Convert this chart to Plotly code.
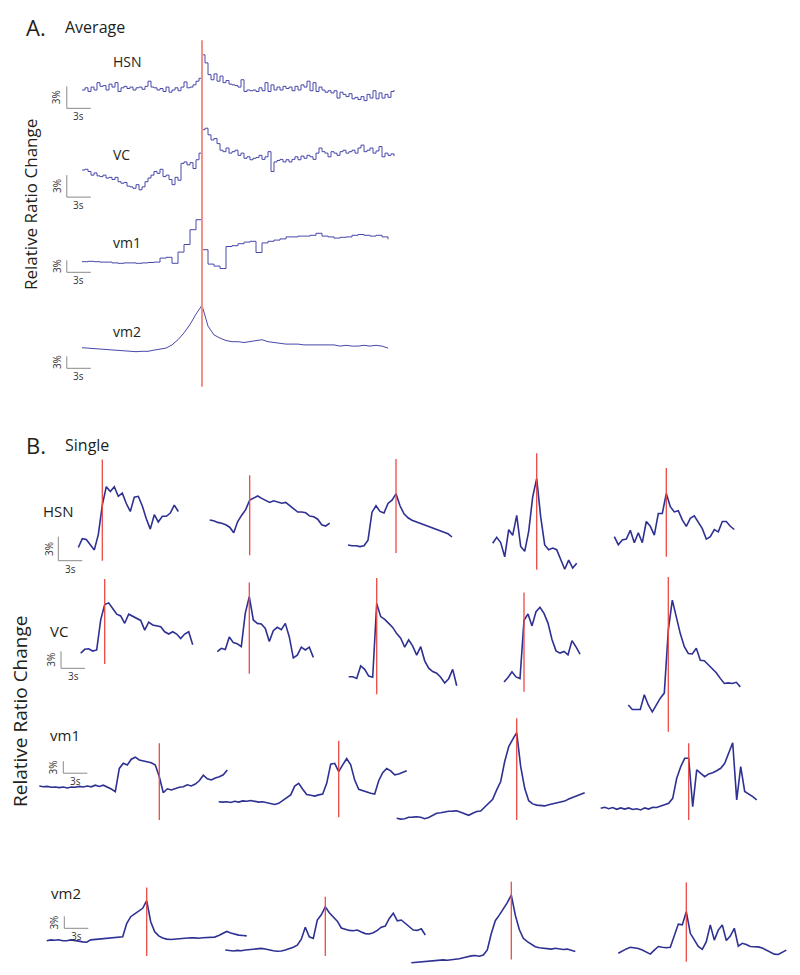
import plotly.graph_objects as go

# ---------------- data (relative ratio change, %) ----------------
# Panel A: averages (stimulus at 0 s). HSN and VC sampled every 0.375 s,
# vm1 and vm2 every 0.75 s, all starting at -15 s
A_T0 = -15.0
A_DT_FINE, A_DT = 0.375, 0.75
A_HSN = [0.0, 0.3, -0.2, 0.4, 0.0, 1.0, 0.5, 0.6, 0.0, 0.8, 0.4, 1.0, -0.2, 0.3, 0.5, 0.2, 0.4, 0.0, 0.3, 0.4,
         0.1, 0.5, 1.2, 0.4, 0.3, 0.0, 0.2, -0.2, 0.4, -0.3, 0.0, 0.3, -0.1, 0.4, 1.1, 0.3, 0.4, 0.7, 1.2, 1.6,
         4.8, 3.7, 2.1, 1.4, 2.2, 1.2, 1.9, 1.0, 1.3, 0.8, 0.7, 0.6, 0.4, 1.4, -0.2, 0.0, -0.1, 0.0, -0.2, 0.3,
         -0.1, 1.0, -0.2, 0.7, 0.0, 0.4, 0.0, 0.5, 0.2, 0.4, -0.1, 0.5, 0.0, 0.7, 0.4, 1.2, -0.1, 1.0, -0.2, 0.4,
         0.0, -0.3, -0.1, -0.4, -0.1, -1.1, -0.3, -0.6, -0.9, -0.5, -1.2, -1.0, -1.3, -0.9, -1.45, -0.6, -1.1, -0.1,
         -1.2, -0.4, -1.1, -0.6, -1.0, -0.2, 0.0]
A_VC = [0.0, 0.1, -0.2, -0.7, -0.4, -0.8, -0.9, -0.7, -1.1, -1.0, -1.3, -1.0, -1.6, -1.8, -1.7, -2.2, -2.3, -2.5, -2.0,
        -2.7, -2.3, -1.6, -1.1, -0.7, -0.2, -0.45, 0.1, -0.9, -0.7, -1.3, -2.0, -1.0, -1.4, 0.9, 1.1, 0.7, 1.0, 0.2,
        1.4, 2.3, 5.5, 5.7, 4.8, 4.1, 4.3, 3.6, 2.7, 2.5, 3.0, 2.3, 2.5, 2.7, 2.0, 2.3, 1.6, 1.8, 1.4, 1.6, 1.7,
        2.0, 1.45, 1.8, 2.5, -0.2, 1.1, 1.3, 1.45, 1.1, 1.4, 1.1, 1.45, 1.8, 1.4, 1.9, 1.6, 2.0, 1.8, 1.45, 2.3,
        3.0, 2.5, 2.3, 1.8, 2.5, 2.3, 2.0, 2.5, 2.7, 2.3, 2.5, 2.7, 2.3, 3.0, 3.4, 2.5, 2.7, 3.0, 2.3, 2.6, 3.2,
        1.8, 2.3, 2.0, 2.2, 1.9]
A_VM1 = [0.0, 0.1, 0.0, -0.1, -0.1, -0.3, -0.4, -0.3, -0.3, -0.4, -0.3, -0.2, -0.1, 0.9, 1.1, -0.4, 2.4, 4.3, 8.0, 10.5,
         3.0, -0.6, -1.1, -1.7, 3.8, 4.0, 4.5, 4.9, 5.1, 2.3, 4.7, 5.1, 5.4, 5.7, 6.2, 6.2, 6.4, 6.4, 6.6, 7.1,
         6.4, 6.2, 5.9, 6.1, 6.2, 6.6, 6.8, 6.6, 6.4, 6.6, 6.2, 5.6]
A_VM2 = [0.0, -0.1, -0.2, -0.3, -0.4, -0.6, -0.6, -0.8, -0.9, -1.0, -0.9, -0.9, -0.6, -0.4, -0.1, 0.7, 2.0, 3.7, 5.8, 8.4,
         10.6, 5.4, 3.2, 2.4, 1.8, 1.5, 1.5, 1.3, 1.5, 1.8, 2.0, 1.5, 1.3, 1.1, 0.9, 0.9, 0.9, 0.7, 0.7, 0.6,
         0.7, 0.6, 0.7, 0.4, 0.6, 0.4, 0.4, 0.6, 0.4, 0.6, 0.4, -0.1]

# Panel B: single trials, sampled every 0.5 s; *_START = time of first sample (s)
B_DT = 0.5
B_HSN_START = [-3.0, -5.0, -6.0, -5.5, -6.5]
B_HSN_1 = [-0.1, 1.0, 0.9, 0.2, -0.4, 1.5, 5.2, 7.5, 6.9, 7.5, 6.3, 6.7, 5.4, 4.4, 6.2, 6.3, 5.1, 3.5, 2.2, 4.0,
           3.1, 3.8, 3.8, 4.2, 5.2, 4.4]
B_HSN_2 = [0.0, -0.1, -0.3, -0.4, -0.6, -0.9, -1.6, -0.2, 0.6, 1.3, 2.5, 2.8, 3.0, 2.7, 2.5, 2.2, 2.4, 2.2, 2.1, 2.2,
           1.8, 1.5, 1.0, 1.0, 0.9, 0.5, 0.4, 0.1, -0.6, -0.75, -0.4]
B_HSN_3 = [0.0, -0.1, -0.1, -0.2, -0.1, 0.6, 4.1, 4.9, 4.2, 4.0, 5.2, 5.6, 6.4, 4.9, 3.9, 3.4, 3.1, 2.9, 2.75, 2.5,
           2.4, 2.1, 2.0, 1.75, 1.6, 1.4, 1.0]
B_HSN_4 = [0.0, 0.75, 0.1, -1.7, 1.7, 1.0, 3.5, -0.4, -1.0, 1.5, 5.8, 8.1, 3.3, -0.2, -0.8, -0.6, -0.8, -2.1, -3.25, -2.1,
           -3.1, -2.5]
B_HSN_5 = [0.0, -1.0, -0.4, -0.3, 0.8, -0.75, 0.5, -0.75, 1.9, 1.3, 0.2, 2.9, 2.9, 5.4, 3.75, 3.1, 3.25, 2.1, 1.3, 2.3,
           2.6, 1.75, 1.0, -0.3, 0.0, 0.9, 0.6, 1.9, 1.9, 1.3, 0.9]

B_VC_START = [-3.0, -4.0, -3.5, -2.5, -5.0]
B_VC_1 = [0.0, 0.7, 0.8, 0.4, 0.6, 5.9, 8.6, 8.9, 7.9, 6.9, 6.6, 5.3, 6.9, 6.5, 6.2, 5.8, 4.1, 5.5, 5.0, 4.8,
          4.7, 3.8, 3.4, 3.8, 3.4, 2.6, 3.4, 3.8, 1.5]
B_VC_2 = [0.0, 0.6, 0.4, 2.6, 1.6, 1.4, 0.9, 6.8, 9.7, 5.6, 5.0, 4.9, 4.1, 1.8, 3.7, 4.3, 3.9, 5.0, 2.6, -1.1,
          -0.6, 0.8, 0.3, 0.8, -1.0]
B_VC_3 = [0.0, 0.0, -0.3, 1.9, 1.3, 0.1, -0.1, 12.9, 10.6, 10.1, 9.4, 8.7, 7.6, 6.8, 5.2, 6.5, 5.4, 3.8, 5.3, 2.8,
          1.5, 0.9, 0.6, -0.1, -1.1, -0.35, 1.3, -1.6]
B_VC_4 = [0.0, 0.8, 1.8, 0.9, 0.6, 10.9, 12.0, 9.9, 12.4, 13.2, 12.1, 10.4, 7.5, 5.5, 5.1, 5.4, 4.8, 7.3, 6.2, 4.9]
B_VC_5 = [0.0, -0.8, -0.8, -0.8, 1.8, 0.0, -1.2, 0.0, 1.2, 2.1, 13.2, 18.5, 15.6, 12.6, 10.3, 9.1, 9.0, 10.0, 7.9, 7.8,
          7.1, 6.3, 5.7, 4.7, 3.8, 3.9, 3.8, 4.0, 3.2]

B_VM1_START = [-15.0, -15.0, -15.0, -11.0]
B_VM1_1 = [0.0, -0.2, -0.1, -0.3, -0.25, -0.4, -0.25, -0.5, -0.25, -0.3, -0.1, -0.25, 0.0, -0.2, 0.2, -0.1, 0.2, -0.25,
           -0.75, -1.4, 4.4, 5.7, 5.25, 6.7, 7.2, 6.5, 6.3, 6.1, 5.8, 5.25, 2.3, -1.7, -0.7, -1.0, -0.7, -0.3, -0.2, 0.3,
           0.0, 0.5, 1.3, 2.7, 1.8, 1.5, 2.0, 2.3, 2.8, 4.0]
B_VM1_2 = [0.0, -0.1, 0.0, -0.2, 0.1, -0.1, 0.2, 0.1, 0.3, 0.1, -0.1, 0.0, -0.25, -0.4, -0.7, -0.4, 0.25, 0.9, 1.7, 3.9,
           4.6, 3.1, 1.8, 1.6, 1.4, 1.7, 1.9, 4.6, 9.4, 9.6, 7.5, 9.2, 10.8, 9.2, 5.4, 3.1, 2.7, 2.4, 2.1, 1.9,
           5.25, 7.25, 8.3, 7.7, 6.7, 6.9, 7.25, 7.75]
B_VM1_3 = [0.0, -0.2, -0.1, 0.25, 0.3, 0.4, 0.25, -0.1, 0.2, 0.8, 1.25, 1.4, 1.6, 1.75, 1.8, 1.9, 1.5, 1.1, 0.75, 1.25,
           1.7, 1.8, 2.75, 3.9, 4.75, 7.1, 9.2, 14.2, 17.9, 19.75, 21.4, 12.9, 7.5, 4.4, 3.6, 3.3, 3.2, 3.1, 3.4, 3.6,
           3.9, 4.1, 4.3, 4.8, 5.25, 5.6, 6.1, 6.4]
B_VM1_4 = [0.0, 0.25, -0.1, 0.2, -0.25, 0.1, -0.2, 0.1, -0.3, -0.1, -0.4, 0.1, -0.2, 0.25, 0.2, 0.6, 0.8, 1.25, 2.5, 7.5,
           10.4, 12.5, 12.5, 0.4, 9.6, 8.75, 7.9, 8.6, 8.9, 9.4, 10.0, 11.25, 13.75, 16.4, 2.1, 10.4, 4.2, 3.6, 2.9, 2.1]

B_VM2_START = [-12.5, -12.5, -12.5, -8.5]
B_VM2_1 = [0.0, 0.2, 0.1, 0.25, 0.0, 0.0, 0.2, 0.1, -0.1, -0.3, -0.4, 0.2, 0.3, 0.4, 0.5, 0.6, 0.6, 0.75, 0.75, 1.0,
           4.3, 6.0, 6.7, 7.3, 8.1, 10.0, 4.75, 2.25, 1.2, 0.7, 0.4, 0.3, 0.4, 0.5, 0.6, 0.7, 0.75, 0.7, 0.6, 0.75,
           0.8, 0.75, 0.9, 1.3, 1.8, 2.3, 1.9, 1.6, 1.4, 1.3, 1.2]
B_VM2_2 = [0.0, -0.2, -0.25, -0.1, -0.2, 0.0, 0.1, 0.2, 0.25, 0.4, 0.25, 0.0, -0.2, -0.3, -0.25, 0.0, 0.3, 0.7, 1.2, 2.7,
           5.7, 3.3, 2.9, 7.5, 8.8, 10.8, 9.3, 8.3, 7.2, 5.5, 5.1, 4.9, 4.8, 5.0, 4.5, 4.1, 4.0, 4.3, 4.9, 5.7,
           6.0, 7.9, 9.2, 7.3, 7.5, 6.7, 5.7, 5.0, 4.9, 5.3, 3.75]
B_VM2_3 = [0.0, 0.1, 0.2, 0.25, 0.25, 0.4, 0.5, 0.6, 0.7, 0.6, 0.7, 0.75, 1.0, 1.25, 1.5, 1.7, 1.8, 1.6, 1.9, 3.2,
           7.3, 10.5, 11.9, 13.3, 15.0, 16.9, 11.9, 8.3, 6.1, 5.25, 4.6, 4.0, 3.75, 3.6, 3.5, 3.4, 3.6, 3.4, 3.3, 3.4,
           3.0, 2.8]
B_VM2_4 = [0.0, 0.6, 1.1, 1.5, 1.3, 1.2, 0.8, 0.3, -0.2, 0.8, 1.7, 1.5, 1.4, 1.5, 4.3, 7.3, 7.1, 10.4, 5.0, 3.5,
           1.7, 1.0, 2.9, 7.1, 3.3, 5.8, 7.1, 3.2, 4.3, 6.25, 1.8, 2.5, 2.2, 1.7, 1.6, 1.6, 1.3, 0.8, 0.3, -0.2,
           -0.3, 0.2, 0.8]

# stimulus marker extent (%), in each trace's own units
STIM_A = (-40.5, 6.8)
STIM_B_HSN = [(-1.75, 10.9), (-4.4, 5.6), (-1.0, 10.75), (-3.3, 11.25), (-2.5, 8.6)]
STIM_B_VC = [(-1.9, 13.1), (-3.9, 12.2), (-3.1, 17.4), (-1.7, 15.8), (-4.7, 22.6)]
STIM_B_VM1 = [(-8.5, 10.7), (-3.9, 15.25), (-0.4, 25.0), (-2.9, 16.25)]
STIM_B_VM2 = [(-3.8, 13.3), (-1.5, 13.3), (0.8, 20.25), (-2.1, 17.7)]

# ---------------- layout (pixel placement of each trace) ----------------
PAGE_W, PAGE_H = 800, 975
PAD = 8                      # the html body margin shifts the figure by 8 px
W, H = PAGE_W - PAD, PAGE_H - PAD
TRACE_A = "#4848AA"
TRACE_B = "#2E3192"
RED_A = "#F39189"
RED_B = "#EC4A44"
BAR = "#8A8A8A"
FONT = "Open Sans"

# (name, values, t0, dt, zero_x_px, zero_y_px, px_per_s, px_per_pct, line width, shape)
panels = [
    ("A_HSN", A_HSN, A_T0, A_DT_FINE, 202, 90, 8, 7.33, 1, "hv"),
    ("A_VC", A_VC, A_T0, A_DT_FINE, 202, 170, 8, 7.33, 1, "hv"),
    ("A_VM1", A_VM1, A_T0, A_DT, 202, 261.7, 8, 4, 1, "hv"),
    ("A_VM2", A_VM2, A_T0, A_DT, 202, 347.7, 8, 4, 1, "linear"),
]
hsn_pos = [(102.3, 546.7), (249.7, 520), (396, 545), (536.7, 543.3), (666.3, 536.7)]
vc_pos = [(104.7, 653.3), (249.3, 651.7), (376.7, 676.7), (524, 682), (668.3, 705)]
vm1_pos = [(159.3, 786), (338.7, 801.7), (516.7, 818.3), (688.7, 808.3)]
vm2_pos = [(146.7, 940.7), (325.3, 950), (511.3, 962.7), (686.3, 953.3)]

rows_b = [
    ("B_HSN", [B_HSN_1, B_HSN_2, B_HSN_3, B_HSN_4, B_HSN_5], B_HSN_START, hsn_pos, 8, 1.6, STIM_B_HSN),
    ("B_VC", [B_VC_1, B_VC_2, B_VC_3, B_VC_4, B_VC_5], B_VC_START, vc_pos, 17 / 3, 1.6, STIM_B_VC),
    ("B_VM1", [B_VM1_1, B_VM1_2, B_VM1_3, B_VM1_4], B_VM1_START, vm1_pos, 4, 1.6, STIM_B_VM1),
    ("B_VM2", [B_VM2_1, B_VM2_2, B_VM2_3, B_VM2_4], B_VM2_START, vm2_pos, 4, 1.6, STIM_B_VM2),
]

fig = go.Figure()
axes_layout = {}
shapes = []
annotations = []
axis_of = {}


def add_axis(n, zx, zy, sx, sy):
    # zx, zy: page pixel where t = 0 s and value = 0 % sit
    zx, zy = zx - PAD, zy - PAD
    sfx = "" if n == 1 else str(n)
    axes_layout["xaxis" + sfx] = dict(domain=[0, 1], range=[-zx / sx, (W - zx) / sx],
                                      visible=False, fixedrange=True, anchor="y" + sfx)
    axes_layout["yaxis" + sfx] = dict(domain=[0, 1], range=[(zy - H) / sy, zy / sy],
                                      visible=False, fixedrange=True, anchor="x" + sfx)
    return "x" + sfx, "y" + sfx


def add_trace(name, vals, t0, dt, xr, yr, color, width, shape):
    t = [t0 + dt * i for i in range(len(vals))]
    fig.add_trace(go.Scatter(x=t, y=vals, xaxis=xr, yaxis=yr, mode="lines", name=name,
                             line=dict(color=color, width=width, shape=shape),
                             hoverinfo="skip", showlegend=False))


def red_line(xr, yr, lo, hi, color, width):
    shapes.append(dict(type="line", xref=xr, yref=yr, x0=0, x1=0, y0=lo, y1=hi,
                       line=dict(color=color, width=width)))


def scale_bar(xr, yr, tc, vc):
    shapes.append(dict(type="line", xref=xr, yref=yr, x0=tc, x1=tc, y0=vc, y1=vc + 3,
                       line=dict(color=BAR, width=1)))
    shapes.append(dict(type="line", xref=xr, yref=yr, x0=tc, x1=tc + 3, y0=vc, y1=vc,
                       line=dict(color=BAR, width=1)))
    annotations.append(dict(xref=xr, yref=yr, x=tc, y=vc + 1.5, text="3%", showarrow=False,
                            textangle=-90, xanchor="right", xshift=-1,
                            font=dict(family=FONT, size=10, color="#333333")))
    annotations.append(dict(xref=xr, yref=yr, x=tc + 1.5, y=vc, text="3s", showarrow=False,
                            yanchor="top", yshift=1,
                            font=dict(family=FONT, size=10, color="#333333")))


n = 0
# panel A
for name, vals, t0, dt, zx, zy, sx, sy, lw, shp in panels:
    n += 1
    xr, yr = add_axis(n, zx, zy, sx, sy)
    axis_of[name] = (xr, yr)
    add_trace(name, vals, t0, dt, xr, yr, TRACE_A, lw, shp)

red_line(*axis_of["A_HSN"], STIM_A[0], STIM_A[1], RED_A, 2)
scale_bar(*axis_of["A_HSN"], -16.9, -2.5)
scale_bar(*axis_of["A_VC"], -16.9, -3.7)
scale_bar(*axis_of["A_VM1"], -16.9, -2.65)
scale_bar(*axis_of["A_VM2"], -16.9, -5.15)

# panel B
for row, series, starts, pos, sy, lw, stims in rows_b:
    for i, vals in enumerate(series):
        n += 1
        zx, zy = pos[i]
        xr, yr = add_axis(n, zx, zy, 8, sy)
        axis_of[f"{row}_{i + 1}"] = (xr, yr)
        add_trace(f"{row}_{i + 1}", vals, starts[i], B_DT, xr, yr, TRACE_B, lw, "linear")
        red_line(xr, yr, stims[i][0], stims[i][1], RED_B, 1.3)

scale_bar(*axis_of["B_HSN_1"], -5.5, -1.75)
scale_bar(*axis_of["B_VC_1"], -5.46, -2.65)
scale_bar(*axis_of["B_VM1_1"], -12.0, 3.2)
scale_bar(*axis_of["B_VM2_1"], -10.3, 3.1)


def text(x, y, s, size, anchor="left", angle=0):
    annotations.append(dict(xref="paper", yref="paper", x=(x - PAD) / W, y=1 - (y - PAD) / H, text=s,
                            showarrow=False, xanchor=anchor, yanchor="middle", textangle=angle,
                            font=dict(family=FONT, size=size, color="#231F20")))


text(24, 27, "A.", 22)
text(63, 27, "Average", 16)
text(111, 62, "HSN", 14)
text(111, 155, "VC", 14)
text(111, 242, "vm1", 14)
text(111, 331, "vm2", 14)
text(30, 205, "Relative Ratio Change", 17, "center", -90)

text(24, 445, "B.", 22)
text(63, 445, "Single", 16)
text(41, 511, "HSN", 15)
text(48, 631, "VC", 15)
text(48, 735, "vm1", 15)
text(49, 893, "vm2", 15)
text(20, 712, "Relative Ratio Change", 19, "center", -90)

fig.update_layout(
    width=W, height=H,
    margin=dict(l=0, r=0, t=0, b=0),
    paper_bgcolor="white", plot_bgcolor="rgba(0,0,0,0)",
    shapes=shapes, annotations=annotations,
    showlegend=False,
    **axes_layout,
)

fig.write_html("out.html")
